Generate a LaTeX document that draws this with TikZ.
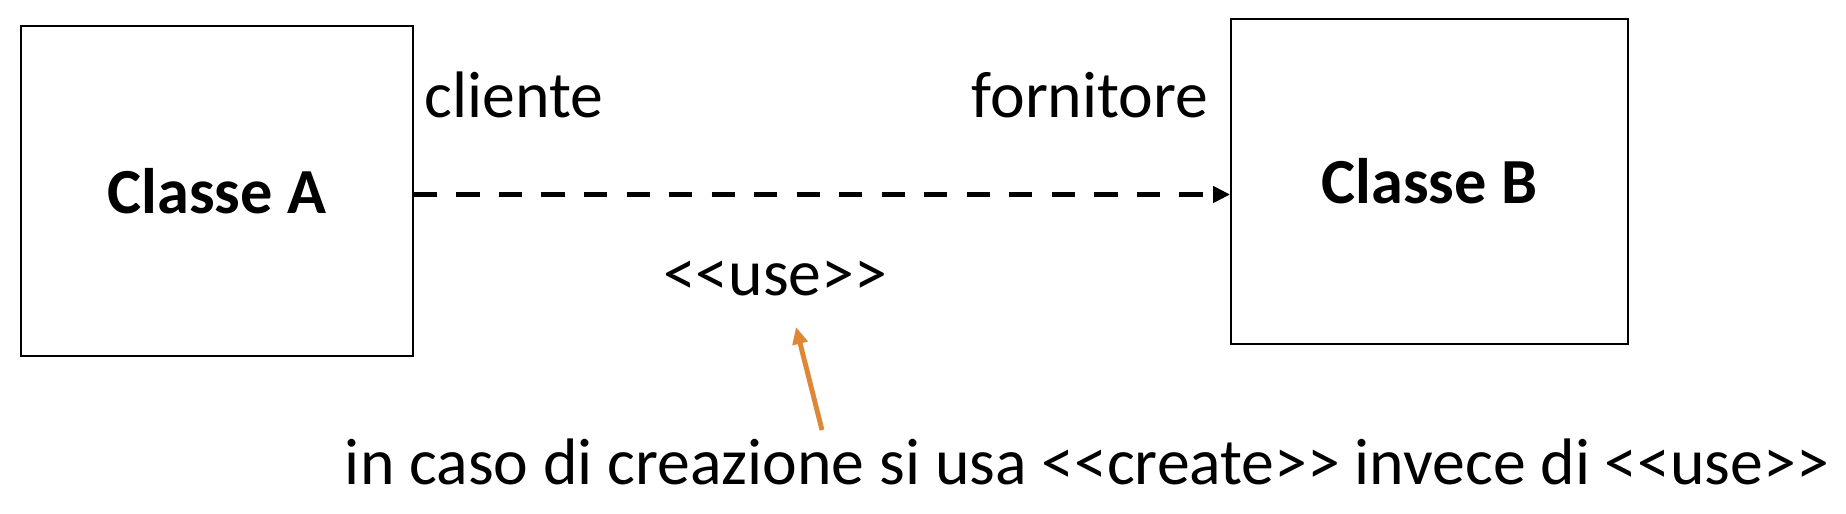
\documentclass[tikz,border=0pt]{standalone}
\usepackage{fontspec}
\setmainfont{Carlito}
\usepackage{tikz}
\usetikzlibrary{positioning,arrows.meta,calc}
\definecolor{umlBlack}{RGB}{0,0,0}
\definecolor{umlOrange}{RGB}{222,135,55}
\newcommand{\stereo}[1]{<\kern0pt<#1>\kern0pt>}
\tikzset{
    base/.style={font=\fontsize{18.7}{22}\selectfont, align=center, inner sep=0pt},
    classbox/.style={rectangle, draw=umlBlack, line width=0.5pt,
                     font=\fontsize{18.3}{22}\selectfont\bfseries, align=center},
    role/.style={base},
    depend/.style={-{Triangle[length=1.7mm, width=1.6mm]}, line width=1.6pt,
                   dash pattern=on 6.6pt off 5.5pt, color=umlBlack},
    hint/.style={-{Triangle[length=1.7mm, width=1.5mm]}, line width=1.4pt, color=umlOrange}
}
\begin{document}
\begin{tikzpicture}
  \useasboundingbox (0,0) rectangle (18.46,-5.14);

  % Classes
  \node[classbox, minimum width=3.92cm, minimum height=3.30cm] (A) at (2.17,-1.91) {Classe A};
  \node[classbox, minimum width=3.97cm, minimum height=3.25cm] (B) at (14.295,-1.815) {Classe B};

  % Roles
  \node[role, anchor=base west] (cli) at (4.24,-1.18) {cliente};
  \node[role, anchor=base east] (forn) at (12.09,-1.18) {fornitore};

  % Dependency
  \coordinate (start) at ($(A.east)+(0,-0.035)$);
  \draw[depend] (start) -- (start -| B.west);
  \node[base] (use) at (7.75,-2.79) {\stereo{use}};

  % Note
  \node[base, anchor=base] (note) at (10.87,-4.85)
    {in caso di creazione si usa \stereo{create} invece di \stereo{use}};
  \coordinate (tail) at (8.22,-4.30);
  \coordinate (tip) at (7.96,-3.27);
  \draw[hint] (tail) -- (tip);
\end{tikzpicture}
\end{document}
